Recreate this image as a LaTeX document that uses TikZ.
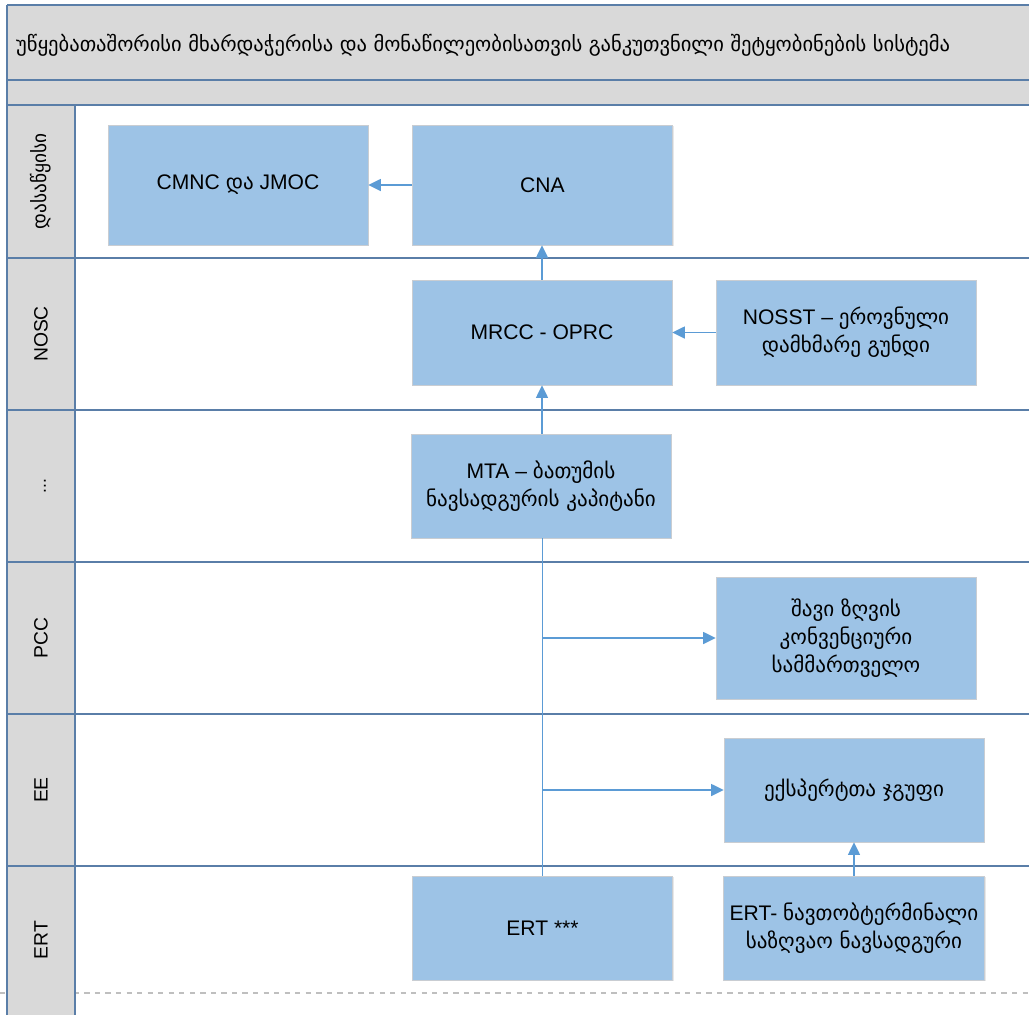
\documentclass[tikz,border=0pt]{standalone}
\usepackage{fontspec}
\setmainfont{Liberation Sans}
\newfontfamily\geo{DejaVu Sans}
\usetikzlibrary{arrows.meta,shadows}

\definecolor{boxblue}{HTML}{9DC3E6}
\definecolor{boxedge}{HTML}{C9CDD2}
\definecolor{flowblue}{HTML}{5B9BD5}
\definecolor{laneline}{HTML}{5A7EA8}
\definecolor{bandgray}{HTML}{D9D9D9}
\definecolor{dashgray}{HTML}{BFBFBF}

\begin{document}
\begin{tikzpicture}[x=0.02cm, y=-0.02cm,
	box/.style={rectangle, fill=boxblue, draw=boxedge, line width=0.4pt, minimum width=5.2cm, align=center, font=\fontsize{12}{16}\selectfont, drop shadow={opacity=0.18, shadow xshift=0.8pt, shadow yshift=-0.8pt}},
	flow/.style={draw=flowblue, line width=0.7pt, -{Triangle[length=2.5mm, width=2.4mm]}},
	trunk/.style={draw=flowblue, line width=0.7pt},
	lane/.style={draw=laneline, line width=1.2pt},
	lanelabel/.style={rotate=90, font=\fontsize{11}{13}\selectfont}]
	\useasboundingbox (0,0) rectangle (1029,1015);
	% bands and label column
	\draw [dashgray, dashed, line width=0.6pt] (0,993) -- (1029,993);
	\fill [bandgray] (7,5) rectangle (1029,105);
	\fill [bandgray] (7,105) rectangle (75,1015);
	\node (title) [anchor = west, font=\geo\fontsize{11.7}{14}\selectfont] at (10,45) {უწყებათაშორისი მხარდაჭერისა და მონაწილეობისათვის განკუთვნილი შეტყობინების სისტემა};
	% lanes
	\foreach \y in {105,258,410,562,714,866} {
		\draw [lane] (7,\y) -- (1029,\y);
	}
	\draw [lane] (7,5) -- (1029,5);
	\draw [laneline, line width=0.8pt] (7,80) -- (1029,80);
	\draw [laneline, line width=0.6pt] (7,5) -- (7,1015);
	\draw [laneline, line width=0.6pt] (75,105) -- (75,1015);
	\node (lstart) [lanelabel] at (41,181.5) {\geo დასაწყისი};
	\node (lnosc) [lanelabel] at (41,334) {NOSC};
	\node (ldots) [lanelabel, font=\fontsize{10}{12}\selectfont] at (45,486) {...};
	\node (lpcc) [lanelabel] at (41,638) {PCC};
	\node (lee) [lanelabel] at (41,790) {EE};
	\node (lert) [lanelabel] at (41,940) {ERT};
	% boxes
	\node (cmnc) [box, minimum height=2.4cm] at (238,185) {CMNC {\geo და} JMOC};
	\node (cna) [box, minimum height=2.4cm] at (542.5,185) {CNA};
	\node (mrcc) [box, minimum height=2.1cm] at (542,332.5) {MRCC - OPRC};
	\node (nosst) [box, minimum height=2.1cm] at (846,332.5) {NOSST – {\geo ეროვნული}\\{\geo დამხმარე გუნდი}};
	\node (mta) [box, minimum height=2.08cm] at (541,486) {MTA – {\geo ბათუმის}\\{\geo ნავსადგურის კაპიტანი}};
	\node (blacksea) [box, minimum height=2.44cm] at (846,638) {{\geo შავი ზღვის}\\{\geo კონვენციური}\\{\geo სამმართველო}};
	\node (expert) [box, minimum height=2.08cm] at (854,790) {\geo ექსპერტთა ჯგუფი};
	\node (ert) [box, minimum height=2.08cm] at (542.5,928) {ERT ***};
	\node (ertoil) [box, minimum height=2.08cm] at (854,928) {ERT- {\geo ნავთობტერმინალი}\\{\geo საზღვაო ნავსადგური}};
	% connectors
	\coordinate (split1) at (ert.north |- blacksea.west);
	\coordinate (split2) at (ert.north |- expert.west);
	\draw [flow] (cna) -- (cmnc);
	\draw [flow] (mrcc.north) -- (mrcc.north |- cna.south);
	\draw [flow] (nosst) -- (mrcc);
	\draw [flow] (mta.north -| mrcc.south) -- (mrcc.south);
	\draw [trunk] (ert.north) -- (ert.north |- mta.south);
	\draw [flow] (split1) -- (blacksea.west);
	\draw [flow] (split2) -- (expert.west);
	\draw [flow] (ertoil) -- (expert);
\end{tikzpicture}
\end{document}
